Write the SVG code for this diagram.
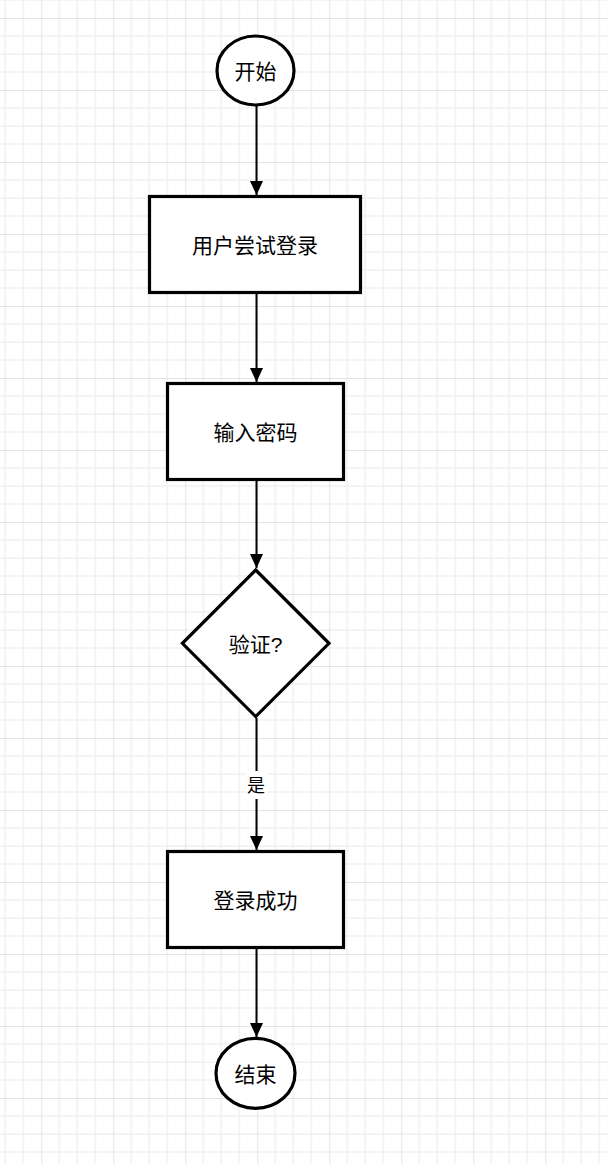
<svg xmlns="http://www.w3.org/2000/svg" width="608" height="1164" viewBox="0 0 608 1164">
  <defs>
    <pattern id="grid" x="41.3" y="18" width="72" height="72" patternUnits="userSpaceOnUse">
      <path d="M18 0V72M36 0V72M54 0V72M0 18H72M0 36H72M0 54H72" stroke="#f1f1f1" stroke-width="1.5" fill="none"/>
      <path d="M0 0V72M0 0H72" stroke="#c9c9c9" stroke-width="1" fill="none"/>
    </pattern>
    <marker id="arrow" viewBox="0 0 14 13" refX="14" refY="6.5" markerWidth="14" markerHeight="13" markerUnits="userSpaceOnUse" orient="auto">
      <path d="M0 0L14 6.5L0 13Z" fill="#000"/>
    </marker>
    <style>
      .shape { fill: #fff; stroke: #000; stroke-width: 3.2; }
      .label { font-family: "Liberation Sans", "Noto Sans CJK SC", sans-serif; font-size: 21px; fill: #000; text-anchor: middle; dominant-baseline: central; }
      .edge { stroke: #000; stroke-width: 2; fill: none; marker-end: url(#arrow); }
      .elabel { font-family: "Liberation Sans", "Noto Sans CJK SC", sans-serif; font-size: 18px; fill: #000; text-anchor: middle; dominant-baseline: central; }
    </style>
  </defs>
  <rect width="608" height="1164" fill="#fff"/>
  <rect width="608" height="1164" fill="url(#grid)"/>

  <g id="connectors">
    <path class="edge" d="M256.5 106V195"/>
    <path class="edge" d="M256.5 294V382"/>
    <path class="edge" d="M256.5 481V568"/>
    <path class="edge" d="M256.5 718V850"/>
    <path class="edge" d="M256.5 949V1037"/>
    <rect x="246" y="771" width="21" height="28" fill="#fff"/>
    <text class="elabel" x="256" y="786">是</text>
  </g>

  <g id="start">
    <ellipse class="shape" cx="255.5" cy="70.5" rx="38.5" ry="34.5"/>
    <text class="label" x="255.5" y="71">开始</text>
  </g>
  <g id="attempt">
    <rect class="shape" x="149.5" y="196.5" width="211" height="96"/>
    <text class="label" x="255" y="245">用户尝试登录</text>
  </g>
  <g id="password">
    <rect class="shape" x="167.5" y="383.5" width="176" height="96"/>
    <text class="label" x="255.5" y="432">输入密码</text>
  </g>
  <g id="verify">
    <path class="shape" d="M255.7 570L329 643.3L255.7 716.6L182.4 643.3Z"/>
    <text class="label" x="255.7" y="644">验证?</text>
  </g>
  <g id="success">
    <rect class="shape" x="167.5" y="851.5" width="176" height="96"/>
    <text class="label" x="255.5" y="900">登录成功</text>
  </g>
  <g id="end">
    <ellipse class="shape" cx="255.5" cy="1073.3" rx="39.5" ry="35"/>
    <text class="label" x="255.5" y="1074">结束</text>
  </g>
</svg>
